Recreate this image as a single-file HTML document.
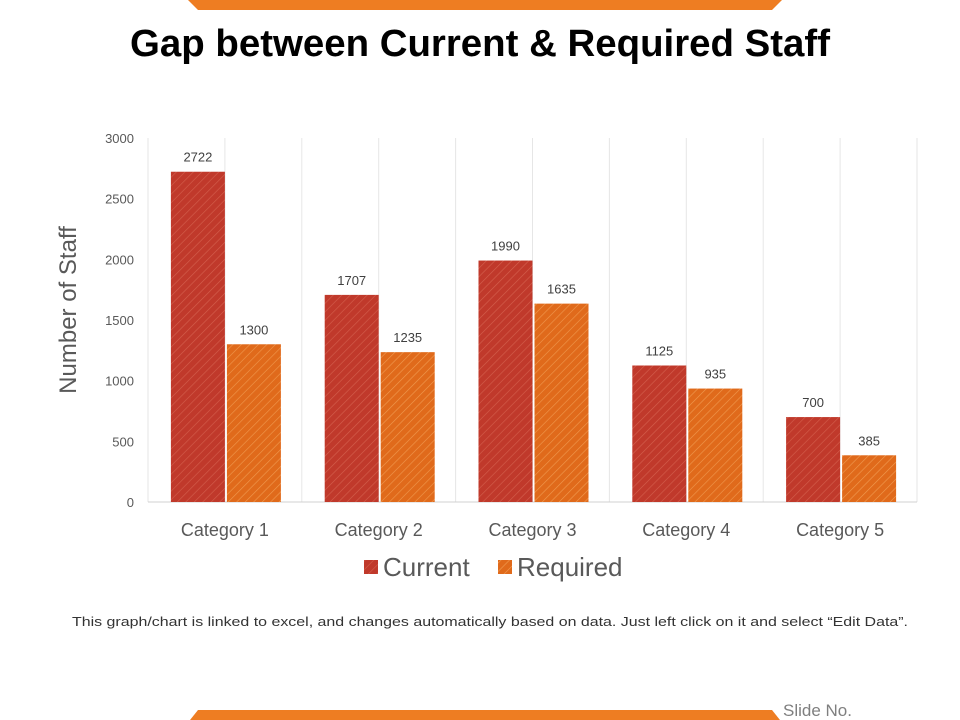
<!DOCTYPE html>
<html><head><meta charset="utf-8"><style>body{margin:0;background:#fff}svg{display:block}</style></head>
<body>
<svg width="960" height="720" xmlns="http://www.w3.org/2000/svg" font-family="Liberation Sans, Arial, sans-serif">
<defs>
<pattern id="pc" width="6" height="6" patternUnits="userSpaceOnUse" patternTransform="rotate(45)"><rect width="6" height="6" fill="#C0392B"/><line x1="0" y1="0" x2="0" y2="6" stroke="#D4604E" stroke-width="1.2"/></pattern>
<pattern id="pr" width="6" height="6" patternUnits="userSpaceOnUse" patternTransform="rotate(45)"><rect width="6" height="6" fill="#E06A1B"/><line x1="0" y1="0" x2="0" y2="6" stroke="#F09A50" stroke-width="1.2"/></pattern>
</defs>
<polygon points="188,0 782,0 772,10 198,10" fill="#EE7D22"/>
<polygon points="198,710 772,710 780,720 190,720" fill="#EE7D22"/>
<text x="480" y="56" text-anchor="middle" font-size="38" font-weight="bold" textLength="700" lengthAdjust="spacingAndGlyphs" fill="#000">Gap between Current &amp; Required Staff</text>
<g id="chart"></g>
<text transform="translate(76,310) rotate(-90)" text-anchor="middle" font-size="24" fill="#595959">Number of Staff</text>
<g>
<rect x="364" y="560" width="14" height="14" fill="url(#pc)"/>
<text x="383" y="576" font-size="26" fill="#595959">Current</text>
<rect x="498" y="560" width="14" height="14" fill="url(#pr)"/>
<text x="517" y="576" font-size="26" fill="#595959">Required</text>
</g>
<text x="490" y="626" text-anchor="middle" font-size="13" fill="#333" textLength="836" lengthAdjust="spacingAndGlyphs">This graph/chart is linked to excel, and changes automatically based on data. Just left click on it and select “Edit Data”.</text>
<text x="783" y="716" font-size="17" fill="#7f7f7f">Slide No.</text>
</svg>
<script>
const categories=["Category 1","Category 2","Category 3","Category 4","Category 5"];
const current=[2722,1707,1990,1125,700];
const required=[1300,1235,1635,935,385];
const yTicks=[0,500,1000,1500,2000,2500,3000];
const NS="http://www.w3.org/2000/svg";
const g=document.getElementById('chart');
const x0=148,x1=917,y0=502,y1=138,yMax=3000;
const cw=(x1-x0)/categories.length;
const y=v=>y0-(v/yMax)*(y0-y1);
function mk(t,a){const e=document.createElementNS(NS,t);for(const k in a)e.setAttribute(k,a[k]);g.appendChild(e);return e;}
for(let i=0;i<=categories.length*2;i++){const l=mk('line',{x1:x0+i*cw/2,x2:x0+i*cw/2,y1:y1,y2:y0,stroke:'#e6e6e6'});

}
const ax=mk('line',{x1:x0,x2:x1,y1:y0,y2:y0,stroke:'#d0d0d0'});


yTicks.forEach(v=>{const t=mk('text',{x:134,y:y(v)+5,'text-anchor':'end','font-size':13,fill:'#595959'});t.textContent=v;

});
categories.forEach((c,i)=>{
const cx=x0+cw*i+cw/2;
const t=mk('text',{x:cx,y:536,'text-anchor':'middle','font-size':18,fill:'#595959'});t.textContent=c;


[[current[i],cx-54,'url(#pc)','current'],[required[i],cx+2,'url(#pr)','required']].forEach(([v,bx,f,n])=>{
const r=mk('rect',{x:bx,y:y(v),width:54,height:y0-y(v),fill:f});


const l=mk('text',{x:bx+27,y:y(v)-10,'text-anchor':'middle','font-size':13,fill:'#404040'});l.textContent=v;


});});
</script>
</body></html>
